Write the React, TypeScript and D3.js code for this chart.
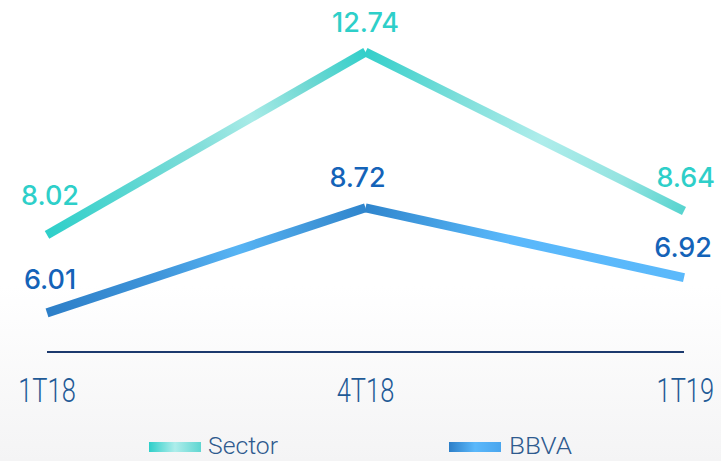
import React from "react";
import * as d3 from "d3";

const categories = ["1T18", "4T18", "1T19"];
const sectorValues = [8.02, 12.74, 8.64];
const bbvaValues = [6.01, 8.72, 6.92];
const seriesNames = ["Sector", "BBVA"];

const W = 721;
const H = 461;

const x = d3.scalePoint<string>().domain(categories).range([47, 684]).padding(0);
const y = d3.scaleLinear().domain([0, 13]).range([545.9, 41.9]);

type Seg = { id: string; x1: number; y1: number; x2: number; y2: number; stops: [number, string][] };

function segments(values: number[], prefix: string, stopSets: [number, string][][]): Seg[] {
  const segs: Seg[] = [];
  for (let i = 0; i < values.length - 1; i++) {
    segs.push({
      id: `${prefix}${i}`,
      x1: x(categories[i])!,
      y1: y(values[i]),
      x2: x(categories[i + 1])!,
      y2: y(values[i + 1]),
      stops: stopSets[i],
    });
  }
  return segs;
}

const sectorSegs = segments(sectorValues, "sec", [
  [[0, "#2ecfc9"], [0.45, "#7cdcd8"], [0.64, "#a8ebe7"], [0.82, "#6fd8d3"], [1, "#33cfca"]],
  [[0, "#33cfca"], [0.3, "#7fdfdb"], [0.55, "#aeedeb"], [0.8, "#95e4e1"], [1, "#58d4cf"]],
]);
const bbvaSegs = segments(bbvaValues, "bb", [
  [[0, "#2d7fc8"], [0.35, "#3f95da"], [0.6, "#57b4f4"], [0.85, "#3f95d8"], [1, "#2f85cd"]],
  [[0, "#2f85cd"], [0.25, "#47a3e6"], [0.45, "#5ab8fb"], [1, "#5bb9fb"]],
]);

const valueFont = "Inter, 'Open Sans', 'DejaVu Sans', sans-serif";
const axisFont = "Roboto, 'Liberation Sans', sans-serif";

export default function App() {
  const baseY = 352;
  const segLine = (s: Seg) => (
    <line
      key={s.id}
      x1={s.x1}
      y1={s.y1}
      x2={s.x2}
      y2={s.y2}
      stroke={`url(#g-${s.id})`}
      strokeWidth={9}
      strokeLinecap="butt"
    />
  );
  return (
    <svg
      width={W}
      height={H}
      style={{ position: "absolute", left: 0, top: 0, display: "block" }}
      xmlns="http://www.w3.org/2000/svg"
    >
      <defs>
        <linearGradient id="bg" x1="0" y1="0" x2="0" y2="1">
          <stop offset="0" stopColor="#ffffff" />
          <stop offset="0.62" stopColor="#ffffff" />
          <stop offset="1" stopColor="#f4f4f5" />
        </linearGradient>
        {[...sectorSegs, ...bbvaSegs].map((s) => (
          <linearGradient
            key={s.id}
            id={`g-${s.id}`}
            gradientUnits="userSpaceOnUse"
            x1={s.x1}
            y1={s.y1}
            x2={s.x2}
            y2={s.y2}
          >
            {s.stops.map(([o, c], i) => (
              <stop key={i} offset={o} stopColor={c} />
            ))}
          </linearGradient>
        ))}
        <linearGradient id="leg-sector" x1="0" y1="0" x2="1" y2="0">
          <stop offset="0" stopColor="#2ecfc9" />
          <stop offset="0.5" stopColor="#aeedeb" />
          <stop offset="1" stopColor="#5fd6d1" />
        </linearGradient>
        <linearGradient id="leg-bbva" x1="0" y1="0" x2="1" y2="0">
          <stop offset="0" stopColor="#2d7fc8" />
          <stop offset="0.5" stopColor="#5ab8fb" />
          <stop offset="1" stopColor="#4aa6ee" />
        </linearGradient>
      </defs>
      <rect x={0} y={0} width={W} height={H} fill="url(#bg)" />

      {/* baseline */}
      <line x1={x(categories[0])} x2={x(categories[2])} y1={baseY} y2={baseY} stroke="#1c3a6e" strokeWidth={2} />

      {/* lines */}
      {sectorSegs.map(segLine)}
      {bbvaSegs.map(segLine)}

      {/* value labels */}
      <g fontFamily={valueFont} fontWeight={500} fontSize={27}>
        <text x={x(categories[0])! + 3} y={205} textAnchor="middle" fill="#2ecfc9">{sectorValues[0].toFixed(2)}</text>
        <text x={x(categories[1])!} y={32} textAnchor="middle" fill="#2ecfc9">{sectorValues[1].toFixed(2)}</text>
        <text x={715} y={187} textAnchor="end" fill="#2ecfc9">{sectorValues[2].toFixed(2)}</text>
        <text x={x(categories[0])! + 3} y={289} textAnchor="middle" fill="#1463b8">{bbvaValues[0].toFixed(2)}</text>
        <text x={x(categories[1])! - 8} y={187} textAnchor="middle" fill="#1463b8">{bbvaValues[1].toFixed(2)}</text>
        <text x={712} y={257} textAnchor="end" fill="#1463b8">{bbvaValues[2].toFixed(2)}</text>
      </g>

      {/* axis labels */}
      <g fontFamily={axisFont} fontWeight={300} fontSize={33} fill="#1f5a96">
        {categories.map((c, i) => {
          const cx = x(c)!;
          const last = i === categories.length - 1;
          return (
            <text
              key={c}
              transform={`translate(${last ? 714 : cx},402) scale(0.77,1)`}
              textAnchor={last ? "end" : "middle"}
            >
              {c}
            </text>
          );
        })}
      </g>

      {/* legend */}
      <g fontFamily={axisFont} fontWeight={300} fontSize={23} fill="#2e5a8e">
        <rect x={149} y={442} width={52} height={10} fill="url(#leg-sector)" />
        <text x={208} y={454} textLength={70} lengthAdjust="spacingAndGlyphs">{seriesNames[0]}</text>
        <rect x={449} y={442} width={52} height={10} fill="url(#leg-bbva)" />
        <text x={509} y={454} textLength={63} lengthAdjust="spacingAndGlyphs">{seriesNames[1]}</text>
      </g>
    </svg>
  );
}
